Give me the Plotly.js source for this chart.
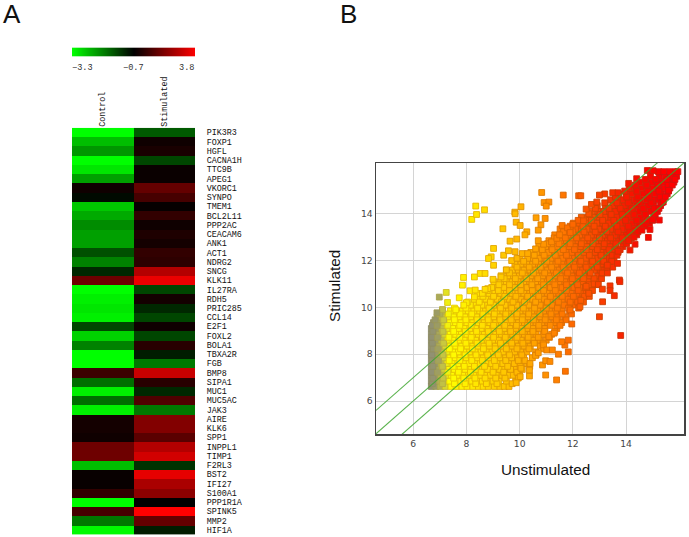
<!DOCTYPE html>
<html>
<head>
<meta charset="utf-8">
<script src="https://cdn.plot.ly/plotly-3.0.1.min.js"></script>
<style>html,body{margin:0;padding:0;background:#fff}#c{width:689px;height:537px}</style>
</head>
<body>
<div id="c"></div>
<script>
const genes = ["PIK3R3","FOXP1","HGFL","CACNA1H","TTC9B","APEG1","VKORC1","SYNPO","TMEM1","BCL2L11","PPP2AC","CEACAM6","ANK1","ACT1","NDRG2","SNCG","KLK11","IL27RA","RDH5","PRIC285","CCL14","E2F1","FOXL2","BOLA1","TBXA2R","FGB","BMP8","SIPA1","MUC1","MUC5AC","JAK3","AIRE","KLK6","SPP1","INPPL1","TIMP1","F2RL3","BST2","IFI27","S100A1","PPP1R1A","SPINK5","MMP2","HIF1A"];
const control = [-3.3,-2.64,-2.23,-3.3,-3.05,-2.33,-0.44,-0.8,-2.74,-2.43,-2.13,-2.33,-2.33,-1.52,-2.03,-1.11,1.24,-3.3,-3.15,-3.05,-3.15,-1.41,-2.84,-2.03,-3.3,-3.3,0.36,-1.82,-3.15,-1.82,-3.15,-0.35,-0.35,-0.44,1.24,1.24,-2.64,-0.56,-0.56,0.18,-3.3,0.54,-1.92,-3.25];
const stimulatedCol = [-1.62,-0.44,-0.26,-1.41,-0.52,-0.52,1.06,0.54,-0.6,0.18,-0.44,-0.17,-0.35,0.18,0.09,2.48,3.45,-1.41,-0.35,-1.11,-1.41,-0.44,-1.41,0,-1.0,-1.92,2.83,0,-1.11,0.71,-1.92,1.6,1.6,0.89,2.48,3.0,-1.21,3.36,2.3,1.77,-0.7,3.8,1.06,-1.0];
const columns = ["Control","Stimulated"];
const legendRamp = [-3.3,-2.78,-2.26,-1.74,-1.22,-0.7,0.2,1.1,2.0,2.9,3.8];

const rowStim = [6.62,6.85,7.1,7.35,7.6,7.85,8.1,8.35,8.6,8.85,9.1,9.35,9.6,9.85,10.1,10.35,10.6,10.85,11.1,11.35,11.6,11.85,12.1,12.35,12.6,12.85,13.1,13.35,13.6,13.85,14.1,14.35,14.6,14.85,15.1,15.35,15.6,15.8];
const rowUnstim = [
[6.68,6.85,7.02,7.2,7.42,7.61,7.83,8.02,8.24,8.45,8.63,8.82,9.05,9.26,9.42,9.6],
[6.68,6.8,7.0,7.18,7.37,7.6,7.79,7.98,8.2,8.4,8.6,8.78,9.0,9.22,9.5,9.85],
[6.68,6.84,7.04,7.25,7.44,7.66,7.87,8.08,8.28,8.5,8.72,8.9,9.13,9.34,9.56,9.76,10.0],
[6.68,6.8,6.96,7.15,7.35,7.55,7.76,7.95,8.17,8.36,8.6,8.8,9.02,9.25,9.44,9.66,9.88,10.1],
[6.68,6.86,7.06,7.27,7.46,7.68,7.9,8.1,8.31,8.52,8.74,8.95,9.15,9.37,9.58,9.8,10.03,10.28],
[6.68,6.79,6.98,7.17,7.38,7.58,7.78,8.0,8.2,8.42,8.63,8.83,9.05,9.27,9.47,9.7,9.92,10.15,10.48],
[6.68,6.88,7.08,7.28,7.49,7.7,7.91,8.12,8.33,8.55,8.76,8.96,9.18,9.39,9.6,9.81,10.04,10.27,10.6],
[6.68,6.8,6.99,7.2,7.4,7.6,7.82,8.03,8.24,8.45,8.66,8.87,9.09,9.3,9.51,9.73,9.95,10.17,10.4,10.78],
[6.68,6.87,7.07,7.29,7.5,7.71,7.92,8.14,8.35,8.57,8.78,9.0,9.2,9.42,9.63,9.85,10.06,10.29,10.52,10.75,11.0],
[6.68,6.78,6.97,7.18,7.39,7.6,7.81,8.02,8.24,8.45,8.67,8.88,9.1,9.31,9.53,9.74,9.96,10.18,10.4,10.62,10.88,11.2],
[6.68,6.86,7.08,7.28,7.49,7.7,7.92,8.13,8.35,8.56,8.78,8.99,9.21,9.42,9.64,9.85,10.07,10.29,10.51,10.73,10.95,11.4],
[6.76,6.95,7.16,7.38,7.59,7.8,8.02,8.24,8.45,8.67,8.88,9.1,9.31,9.53,9.75,9.96,10.18,10.4,10.62,10.84,11.06,11.3,11.58],
[6.9,7.08,7.3,7.52,7.73,7.95,8.16,8.38,8.6,8.81,9.03,9.24,9.46,9.68,9.89,10.11,10.33,10.55,10.77,10.99,11.22,11.45,11.7],
[7.1,7.4,7.62,7.85,8.07,8.28,8.5,8.72,8.93,9.15,9.37,9.58,9.8,10.02,10.24,10.46,10.68,10.9,11.12,11.35,11.58,11.88],
[7.92,8.15,8.37,8.58,8.8,9.02,9.24,9.46,9.68,9.9,10.12,10.34,10.56,10.78,11.0,11.22,11.45,11.68,11.92,12.1],
[8.3,8.52,8.74,8.95,9.17,9.39,9.61,9.83,10.05,10.27,10.49,10.71,10.93,11.15,11.37,11.6,11.83,12.06,12.3],
[8.42,8.85,9.07,9.29,9.5,9.72,9.94,10.16,10.38,10.6,10.82,11.04,11.26,11.48,11.7,11.93,12.16,12.38,12.5],
[8.95,9.18,9.4,9.62,9.84,10.06,10.28,10.5,10.72,10.94,11.16,11.38,11.6,11.82,12.04,12.26,12.48,12.68],
[9.03,9.28,9.5,9.72,9.94,10.16,10.38,10.6,10.82,11.04,11.26,11.48,11.7,11.92,12.14,12.36,12.58,12.85],
[9.3,9.55,9.77,9.99,10.21,10.43,10.65,10.87,11.09,11.31,11.53,11.75,11.97,12.19,12.41,12.63,12.93],
[9.5,9.73,9.95,10.17,10.39,10.61,10.83,11.05,11.27,11.49,11.71,11.93,12.15,12.37,12.59,12.81,13.03,13.2],
[9.82,10.05,10.27,10.49,10.71,10.93,11.15,11.37,11.59,11.81,12.03,12.25,12.47,12.69,12.91,13.13,13.38],
[10.02,10.3,10.52,10.74,10.96,11.18,11.4,11.62,11.84,12.06,12.28,12.5,12.72,12.94,13.16,13.38,13.55],
[10.42,10.65,10.87,11.09,11.31,11.53,11.75,11.97,12.19,12.41,12.63,12.85,13.07,13.29,13.51,13.7],
[10.72,10.98,11.2,11.42,11.64,11.86,12.08,12.3,12.52,12.74,12.96,13.18,13.4,13.62,13.88],
[11.1,11.32,11.54,11.76,11.98,12.2,12.42,12.64,12.86,13.08,13.3,13.52,13.74,13.96,14.1],
[11.32,11.6,11.82,12.04,12.26,12.48,12.7,12.92,13.14,13.36,13.58,13.8,14.02,14.24,14.4],
[11.52,11.78,12.1,12.32,12.54,12.76,12.98,13.2,13.42,13.64,13.86,14.08,14.3,14.58],
[12.02,12.25,12.47,12.69,12.91,13.13,13.35,13.57,13.79,14.01,14.23,14.45,14.67,14.88],
[12.32,12.55,12.77,12.99,13.21,13.43,13.65,13.87,14.09,14.31,14.53,14.75,15.05],
[12.72,12.95,13.17,13.39,13.61,13.83,14.05,14.27,14.49,14.71,14.93,15.18],
[12.92,13.22,13.5,13.72,13.94,14.16,14.38,14.6,14.82,15.04,15.3],
[13.42,13.68,13.9,14.12,14.34,14.56,14.78,15.0,15.22,15.4],
[13.72,14.0,14.22,14.44,14.66,14.88,15.1,15.32,15.55],
[14.12,14.35,14.57,14.79,15.01,15.23,15.45,15.65],
[14.52,14.74,14.96,15.18,15.4,15.62,15.8],
[14.92,15.25,15.47,15.69,15.9],
[15.22,15.42,15.64,15.86,15.95]
];
const rowStim2 = [6.74,6.98,7.23,7.48,7.73,7.97,8.23,8.47,8.72,8.97,9.23,9.47,9.72,9.97,10.23,10.47,10.72,10.97,11.23,11.47,11.72,11.97,12.23,12.47,12.72,12.97,13.23,13.47,13.72,13.97,14.23,14.47,14.72,14.97,15.23,15.47];
const rowUnstim2 = [
[6.72,7.1,7.55,7.95,8.35,8.75,9.15,9.72],
[6.74,7.12,7.52,7.9,8.32,8.7,9.1,9.45,9.95],
[6.7,6.92,7.3,7.7,8.15,8.55,9.0,9.4,9.9],
[6.74,7.1,7.5,7.92,8.3,8.68,9.1,9.55,10.02,10.38],
[6.72,6.95,7.35,7.75,8.2,8.6,9.05,9.48,9.95,10.2],
[6.7,7.12,7.52,7.95,8.36,8.8,9.2,9.62,10.08,10.62],
[6.75,6.93,7.36,7.78,8.22,8.64,9.08,9.5,9.9,10.35,10.9],
[6.72,7.14,7.55,7.98,8.4,8.85,9.28,9.7,10.12,10.55,10.88],
[6.7,6.92,7.34,7.75,8.18,8.6,9.02,9.46,9.9,10.32,10.7,11.12],
[6.74,7.12,7.52,7.96,8.38,8.82,9.24,9.66,10.1,10.5,10.94,11.32],
[6.72,6.9,7.3,7.75,8.18,8.6,9.02,9.44,9.88,10.3,10.72,11.15,11.52],
[6.82,7.14,7.55,7.98,8.4,8.82,9.26,9.68,10.1,10.52,10.96,11.38,11.75],
[7.0,7.32,7.76,8.2,8.62,9.05,9.48,9.9,10.34,10.76,11.18,11.6,11.95],
[7.55,7.98,8.42,8.85,9.28,9.7,10.14,10.56,11.0,11.42,11.84,12.22],
[8.05,8.48,8.9,9.32,9.75,10.18,10.6,11.04,11.46,11.9,12.18,12.4],
[8.62,9.02,9.44,9.86,10.3,10.72,11.16,11.6,12.02,12.44,12.62],
[8.78,9.2,9.62,10.05,10.48,10.9,11.34,11.76,12.2,12.6,12.74],
[9.22,9.62,10.04,10.46,10.9,11.32,11.76,12.18,12.62,12.92],
[9.42,9.84,10.26,10.68,11.12,11.54,11.98,12.4,12.8,13.08],
[9.62,10.1,10.52,10.94,11.38,11.8,12.24,12.66,13.1,13.3],
[9.9,10.36,10.78,11.2,11.64,12.06,12.5,12.92,13.28,13.5],
[10.15,10.6,11.02,11.44,11.88,12.3,12.74,13.16,13.46],
[10.55,10.92,11.34,11.76,12.2,12.62,13.06,13.48,13.66],
[10.85,11.22,11.64,12.06,12.5,12.92,13.36,13.78],
[11.05,11.48,11.9,12.32,12.76,13.18,13.62,14.02],
[11.3,11.72,12.14,12.56,13.0,13.42,13.86,14.2],
[11.65,12.0,12.42,12.84,13.28,13.7,14.14,14.45],
[11.9,12.38,12.8,13.22,13.66,14.08,14.52,14.72],
[12.2,12.7,13.12,13.54,13.98,14.4,14.8,15.0],
[12.62,13.02,13.44,13.86,14.3,14.72,15.1],
[12.85,13.36,13.78,14.2,14.64,15.06,15.24],
[13.2,13.66,14.08,14.5,14.94,15.34],
[13.6,14.02,14.44,14.86,15.28,15.48],
[13.95,14.4,14.82,15.24,15.6],
[14.35,14.78,15.2,15.58,15.74],
[14.72,15.12,15.54,15.84]
];
const outlierUnstim = [8.35,8.2,8.38,8.68,10.83,11.64,12.22,12.3,10.05,9.82,9.83,10.92,11.1,11,10.62,10.96,9.87,10.02,9.37,10.8,10.27,10.2,9.64,9.89,10.7,10.7,9.02,8.93,8.83,9.02,9.4,9.58,9.83,8.52,8.7,8.3,7.89,7.85,8.14,8.33,6.98,7.24,7.73,7.29,7.1,6.89,8.7,13.8,13,13.12,12.96,13.11,13.4,13.4,13.56,13.75,13.77,11.39,10.98,11.72,10.86,10.98,11.14,11.46,11.83,11.02,11.23,11.7,11.58,11.83,11.96,11.9,12.27,10.37,10.37,10.02,9.87,10.05,10.39,10.7,15.25,14.84,14.9,14.34,14.15,13.68,15.02];
const outlierStim = [14.33,13.76,13.97,14.17,14.91,14.8,14.77,14.77,14.3,14.07,14,14.48,14.5,14.33,13.83,13.8,13.64,13.5,13.36,13.53,13.23,13.1,12.83,12.92,13.3,12.85,12.52,12.16,12.09,11.8,12.23,12.42,12.38,11.45,11.45,11.3,11.28,10.95,10.71,10.74,10.44,10.64,10.41,10.21,9.91,9.77,10.77,8.8,9.6,10.24,10.98,10.78,10.92,10.72,10.5,11.17,11.1,6.9,7.11,7.27,7.54,7.72,7.69,8,8.1,8.18,8.18,8.39,8.53,8.6,9.29,9.89,10.03,7.07,7.32,7.04,6.78,7.4,7.6,8.06,13.73,12.99,13.33,12.7,12.45,11.88,15.84];
const fringeUnstim = [10.6,10.9,11.2,11.4,11.5,11.6,11.8,12,11.9,12.4,12.6,12.5,12.7,12.9,13.2,13,13.5,13.7,14.1,14.4,14.8,9.7,9.9,10.1,10.3,9.3,9.5,9,8.8,8.6,8,8.3,7.6,7.9,12.8,12.6,12.3,12.5,11.1,11.3,10.6,10.9,14.1,14.3,14.6,15,15.4,15.6,13.3,13.7];
const fringeStim = [12.5,12.7,12.8,12.95,13.1,13.5,13.4,13.55,13.2,13.7,14,14.2,14.4,14.5,14.85,14.8,14.9,14.9,15.3,15.5,15.85,12,12.1,12.3,12.3,11.3,11.6,11.2,10.8,10.6,10.2,10.45,9.9,10.1,11,10.6,10.3,10.9,8.75,8.9,7.95,8.4,12.85,13,13.3,13.75,14.5,15,11.8,12.4];
const foldX = [4.6,16.2];
const foldNone = [4.6,16.2], foldUp = [5.6,17.2], foldDown = [3.6,15.2];
const xTicks = [6,8,10,12,14], yTicks = [6,8,10,12,14];

const W = 689, H = 537;
const fx = p => p / W, fy = p => 1 - p / H;
const hs = [[0,'#00ff00'],[0.366,'#000000'],[1,'#ff0000']];

const sx = [], sy = [];
rowUnstim.forEach((r,i) => r.forEach(v => { sx.push(v); sy.push(rowStim[i]); }));
rowUnstim2.forEach((r,i) => r.forEach(v => { sx.push(v); sy.push(rowStim2[i]); }));
fringeUnstim.forEach((v,i) => { sx.push(v); sy.push(fringeStim[i]); });
outlierUnstim.forEach((v,i) => { sx.push(v); sy.push(outlierStim[i]); });

const fill = [[0,'#8c8c78'],[0.035,'#9c9c64'],[0.06,'#c8c840'],[0.085,'#ffff00'],[0.21,'#ffe400'],[0.33,'#ffc400'],[0.44,'#ffa400'],[0.55,'#ff7c00'],[0.66,'#fc5400'],[0.78,'#f82c00'],[0.89,'#f80800'],[1,'#ff0000']];
const edge = [[0,'#84846e'],[0.06,'#b8b040'],[0.085,'#e8cc00'],[0.33,'#e09c00'],[0.55,'#dc6c00'],[0.72,'#cc4000'],[1,'#d01410']];

const axFont = {family:'"DejaVu Sans",sans-serif',size:9.2,color:'#444'};
const monoFont = {family:'"Liberation Mono",monospace',size:8.4,color:'#111'};

const traces = [
 {type:'heatmap',x:columns,y:genes,z:genes.map((g,i)=>[control[i],stimulatedCol[i]]),zmin:-3.3,zmax:3.8,colorscale:hs,showscale:false,xaxis:'x',yaxis:'y',hoverinfo:'skip'},
 {type:'heatmap',z:[legendRamp],zmin:-3.3,zmax:3.8,colorscale:hs,zsmooth:'best',showscale:false,xaxis:'x2',yaxis:'y2',hoverinfo:'skip'},
 {type:'scatter',mode:'markers',x:sx,y:sy,xaxis:'x3',yaxis:'y3',hoverinfo:'skip',
  marker:{symbol:'square',size:5.8,color:sx,cmin:6.6,cmax:15.5,colorscale:fill,showscale:false,line:{width:0.9,color:sx,cmin:6.6,cmax:15.5,colorscale:edge}}},
 {type:'scatter',mode:'lines',x:foldX,y:foldUp,xaxis:'x3',yaxis:'y3',line:{color:'rgba(60,165,45,0.85)',width:1.1},hoverinfo:'skip'},
 {type:'scatter',mode:'lines',x:foldX,y:foldNone,xaxis:'x3',yaxis:'y3',line:{color:'rgba(60,165,45,0.85)',width:1.1},hoverinfo:'skip'},
 {type:'scatter',mode:'lines',x:foldX,y:foldDown,xaxis:'x3',yaxis:'y3',line:{color:'rgba(60,165,45,0.85)',width:1.1},hoverinfo:'skip'}
];

const ann = (t,x,y,xa,font,extra) => Object.assign({text:t,x:fx(x),y:fy(y),xref:'paper',yref:'paper',xanchor:xa,yanchor:'middle',showarrow:false,font:font},extra||{});
const sans = s => ({family:'"Liberation Sans",Arial,sans-serif',size:s,color:'#111'});
const legFont = {family:'"Liberation Mono",monospace',size:8.6,color:'#333'};

const layout = {
 width:W,height:H,margin:{l:0,r:0,t:0,b:0},paper_bgcolor:'#fff',plot_bgcolor:'#fff',showlegend:false,
 xaxis:{domain:[fx(72),fx(195)],anchor:'y',side:'top',tickangle:-90,tickfont:monoFont,ticks:'',showgrid:false,zeroline:false,showline:false,automargin:false},
 yaxis:{domain:[fy(534.5),fy(127.8)],anchor:'x',side:'right',autorange:'reversed',tickmode:'array',tickvals:genes,ticktext:genes,tickfont:monoFont,ticks:'outside',ticklen:9,tickcolor:'rgba(0,0,0,0)',showgrid:false,zeroline:false,showline:false,automargin:false},
 xaxis2:{domain:[fx(72),fx(195)],anchor:'y2',range:[0,10],showticklabels:false,ticks:'',showgrid:false,zeroline:false},
 yaxis2:{domain:[fy(56.8),fy(47.4)],anchor:'x2',showticklabels:false,ticks:'',showgrid:false,zeroline:false},
 xaxis3:{domain:[fx(376),fx(684)],anchor:'y3',range:[4.6,16.18],tickmode:'array',tickvals:xTicks,tickfont:axFont,ticks:'',showgrid:true,gridcolor:'#d4d4d4',gridwidth:1,zeroline:false,showline:true,linecolor:'#444',linewidth:1.5,mirror:true,automargin:false},
 yaxis3:{domain:[fy(434),fy(163)],anchor:'x3',range:[4.59,16.17],tickmode:'array',tickvals:yTicks,tickfont:axFont,ticks:'',showgrid:true,gridcolor:'#d4d4d4',gridwidth:1,zeroline:false,showline:true,linecolor:'#444',linewidth:1.5,mirror:true,automargin:false},
 annotations:[
  ann('A',12,14,'center',sans(26)),
  ann('B',348,14,'center',sans(26)),
  ann('\u22123.3',70,68.5,'left',legFont),
  ann('\u22120.7',133,68.5,'center',legFont),
  ann('3.8',196,68.5,'right',legFont),
  ann('Unstimulated',545,469,'center',sans(15.3)),
  ann('Stimulated',334,286,'center',sans(15.3),{textangle:-90})
 ]
};
Plotly.newPlot('c',traces,layout,{displayModeBar:false,staticPlot:true});
</script>
</body>
</html>
